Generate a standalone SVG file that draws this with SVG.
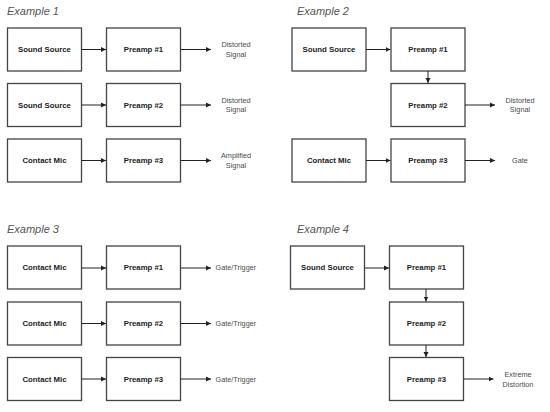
<svg xmlns="http://www.w3.org/2000/svg" width="550" height="412" viewBox="0 0 550 412">
<defs>
<marker id="ah" markerWidth="6" markerHeight="6" refX="5" refY="3" orient="auto" markerUnits="userSpaceOnUse">
<path d="M0,0.5 L5,3 L0,5.5 Z" fill="#222"/>
</marker>
<style>
.box{fill:#fff;stroke:#444;stroke-width:1.3}
.bt{font-family:"Liberation Sans",Arial,sans-serif;font-size:7.8px;font-weight:bold;fill:#222;text-anchor:middle}
.title{font-family:"Liberation Sans",Arial,sans-serif;font-size:11px;font-style:italic;fill:#555}
.out{font-family:"Liberation Sans",Arial,sans-serif;font-size:7.3px;fill:#4a4a4a;text-anchor:middle}
.outl{font-family:"Liberation Sans",Arial,sans-serif;font-size:7.3px;fill:#4a4a4a}
.c{stroke:#222;stroke-width:1;fill:none;marker-end:url(#ah)}
</style>
</defs>
<rect width="550" height="412" fill="#fff"/>
<text class="title" x="7" y="15">Example 1</text>
<text class="title" x="297" y="15">Example 2</text>
<text class="title" x="7" y="233">Example 3</text>
<text class="title" x="297" y="233">Example 4</text>

<g id="e1-src1"><rect class="box" x="7.5" y="28" width="74" height="43"/><text class="bt" x="44.5" y="52">Sound Source</text></g>
<g id="e1-pre1"><rect class="box" x="106.5" y="28" width="74" height="43"/><text class="bt" x="143.5" y="52">Preamp #1</text></g>
<g id="e1-out1"><text class="out" x="236" y="47">Distorted</text><text class="out" x="236" y="56.5">Signal</text></g>
<g id="e1-src2"><rect class="box" x="7.5" y="83.5" width="74" height="43"/><text class="bt" x="44.5" y="107.5">Sound Source</text></g>
<g id="e1-pre2"><rect class="box" x="106.5" y="83.5" width="74" height="43"/><text class="bt" x="143.5" y="107.5">Preamp #2</text></g>
<g id="e1-out2"><text class="out" x="236" y="102.5">Distorted</text><text class="out" x="236" y="112">Signal</text></g>
<g id="e1-src3"><rect class="box" x="7.5" y="139" width="74" height="43"/><text class="bt" x="44.5" y="163">Contact Mic</text></g>
<g id="e1-pre3"><rect class="box" x="106.5" y="139" width="74" height="43"/><text class="bt" x="143.5" y="163">Preamp #3</text></g>
<g id="e1-out3"><text class="out" x="236" y="158">Amplified</text><text class="out" x="236" y="167.5">Signal</text></g>

<g id="e2-src1"><rect class="box" x="292" y="28" width="74" height="43"/><text class="bt" x="329" y="52">Sound Source</text></g>
<g id="e2-pre1"><rect class="box" x="391" y="28" width="74" height="43"/><text class="bt" x="428" y="52">Preamp #1</text></g>
<g id="e2-pre2"><rect class="box" x="391" y="83.5" width="74" height="43"/><text class="bt" x="428" y="107.5">Preamp #2</text></g>
<g id="e2-out2"><text class="out" x="520" y="102.5">Distorted</text><text class="out" x="520" y="112">Signal</text></g>
<g id="e2-src3"><rect class="box" x="292" y="139" width="74" height="43"/><text class="bt" x="329" y="163">Contact Mic</text></g>
<g id="e2-pre3"><rect class="box" x="391" y="139" width="74" height="43"/><text class="bt" x="428" y="163">Preamp #3</text></g>
<g id="e2-out3"><text class="out" x="520" y="163">Gate</text></g>

<g id="e3-src1"><rect class="box" x="7.5" y="246" width="74" height="43"/><text class="bt" x="44.5" y="270">Contact Mic</text></g>
<g id="e3-pre1"><rect class="box" x="106.5" y="246" width="74" height="43"/><text class="bt" x="143.5" y="270">Preamp #1</text></g>
<g id="e3-out1"><text class="outl" x="215.5" y="270">Gate/Trigger</text></g>
<g id="e3-src2"><rect class="box" x="7.5" y="302" width="74" height="43"/><text class="bt" x="44.5" y="326">Contact Mic</text></g>
<g id="e3-pre2"><rect class="box" x="106.5" y="302" width="74" height="43"/><text class="bt" x="143.5" y="326">Preamp #2</text></g>
<g id="e3-out2"><text class="outl" x="215.5" y="326">Gate/Trigger</text></g>
<g id="e3-src3"><rect class="box" x="7.5" y="357.5" width="74" height="43"/><text class="bt" x="44.5" y="381.5">Contact Mic</text></g>
<g id="e3-pre3"><rect class="box" x="106.5" y="357.5" width="74" height="43"/><text class="bt" x="143.5" y="381.5">Preamp #3</text></g>
<g id="e3-out3"><text class="outl" x="215.5" y="381.5">Gate/Trigger</text></g>

<g id="e4-src1"><rect class="box" x="290.5" y="246" width="74" height="43"/><text class="bt" x="327.5" y="270">Sound Source</text></g>
<g id="e4-pre1"><rect class="box" x="389.5" y="246" width="74" height="43"/><text class="bt" x="426.5" y="270">Preamp #1</text></g>
<g id="e4-pre2"><rect class="box" x="389.5" y="302" width="74" height="43"/><text class="bt" x="426.5" y="326">Preamp #2</text></g>
<g id="e4-pre3"><rect class="box" x="389.5" y="357.5" width="74" height="43"/><text class="bt" x="426.5" y="381.5">Preamp #3</text></g>
<g id="e4-out3"><text class="out" x="518" y="377">Extreme</text><text class="out" x="518" y="386.5">Distortion</text></g>

<g id="connectors">
<line class="c" x1="81.5" y1="49.5" x2="106" y2="49.5"/>
<line class="c" x1="180.5" y1="49.5" x2="211" y2="49.5"/>
<line class="c" x1="81.5" y1="105" x2="106" y2="105"/>
<line class="c" x1="180.5" y1="105" x2="211" y2="105"/>
<line class="c" x1="81.5" y1="160.5" x2="106" y2="160.5"/>
<line class="c" x1="180.5" y1="160.5" x2="211" y2="160.5"/>

<line class="c" x1="366" y1="49.5" x2="390.5" y2="49.5"/>
<line class="c" x1="428" y1="71" x2="428" y2="83"/>
<line class="c" x1="465" y1="105" x2="495" y2="105"/>
<line class="c" x1="366" y1="160.5" x2="390.5" y2="160.5"/>
<line class="c" x1="465" y1="160.5" x2="495" y2="160.5"/>

<line class="c" x1="81.5" y1="268" x2="106" y2="268"/>
<line class="c" x1="180.5" y1="268" x2="211" y2="268"/>
<line class="c" x1="81.5" y1="323.5" x2="106" y2="323.5"/>
<line class="c" x1="180.5" y1="323.5" x2="211" y2="323.5"/>
<line class="c" x1="81.5" y1="379" x2="106" y2="379"/>
<line class="c" x1="180.5" y1="379" x2="211" y2="379"/>

<line class="c" x1="364.5" y1="268" x2="389" y2="268"/>
<line class="c" x1="426" y1="289" x2="426" y2="301.5"/>
<line class="c" x1="426" y1="345" x2="426" y2="357"/>
<line class="c" x1="463.5" y1="379" x2="493.5" y2="379"/>
</g>
</svg>
